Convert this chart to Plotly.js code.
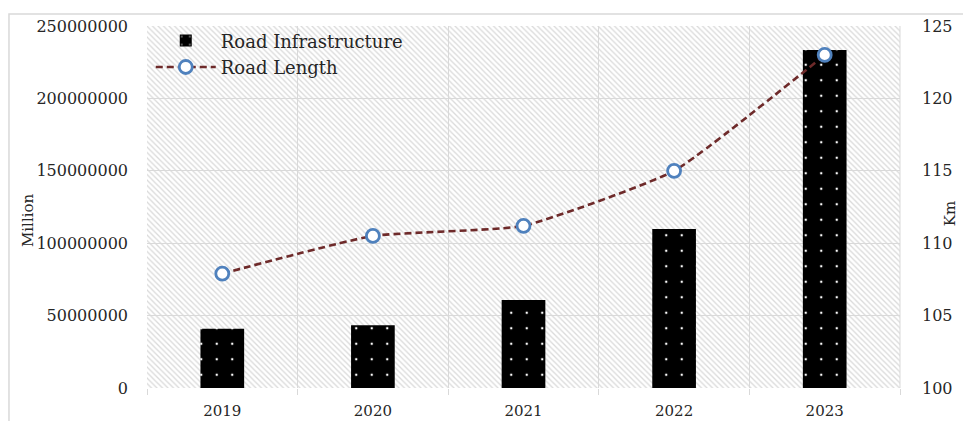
<!DOCTYPE html>
<html>
<head>
<meta charset="utf-8">
<script src="https://cdn.plot.ly/plotly-3.0.1.min.js"></script>
<style>
  html, body { margin: 0; padding: 0; background: #fff; }
  #chart { width: 963px; height: 421px; }
</style>
</head>
<body>
<div id="chart"></div>
<script>
// Yearly categories
const years = ['2019', '2020', '2021', '2022', '2023'];
// Road infrastructure spending (left axis)
const infrastructure = [41000000, 43300000, 60800000, 109800000, 233400000];
// Road length in km (right axis)
const roadLength = [107.9, 110.5, 111.2, 115.0, 123.0];

const leftTicks = [0, 50000000, 100000000, 150000000, 200000000, 250000000];
const rightTicks = [100, 105, 110, 115, 120, 125];

const serif = 'DejaVu Serif, serif';
const textColor = '#262626';
const gridColor = '#d9d9d9';

// Diagonal hatch used as the plot-area fill
const hatchSvg =
  "<svg xmlns='http://www.w3.org/2000/svg' width='753' height='362' viewBox='0 0 753 362' preserveAspectRatio='none'>" +
  "<defs><pattern id='h' width='5.5' height='5.5' patternUnits='userSpaceOnUse'>" +
  "<path d='M-1,-1 L6.5,6.5 M-1,4.5 L1,6.5 M4.5,-1 L6.5,1' stroke='#dadada' stroke-width='1.3'/></pattern></defs>" +
  "<rect width='753' height='362' fill='url(#h)'/></svg>";
const hatchUri = 'data:image/svg+xml;charset=utf-8,' + encodeURIComponent(hatchSvg);

const traces = [
  {
    type: 'bar',
    name: 'Road Infrastructure',
    x: years,
    y: infrastructure,
    width: 0.29,
    marker: {
      color: '#000',
      line: { width: 0 },
      pattern: { shape: '.', fgcolor: '#fff', bgcolor: '#000', size: 15.5, solidity: 0.02, fillmode: 'replace' }
    },
    yaxis: 'y'
  },
  {
    type: 'scatter',
    mode: 'lines+markers',
    name: 'Road Length',
    x: years,
    y: roadLength,
    yaxis: 'y2',
    line: { color: '#6e2a2a', width: 2.6, dash: '7px,4px', shape: 'spline', smoothing: 0.45 },
    marker: { symbol: 'circle', size: 13, color: '#fff', line: { color: '#4f81bd', width: 2.8 } }
  }
];

const layout = {
  width: 963,
  height: 421,
  margin: { l: 147, r: 63, t: 26, b: 33, pad: 0 },
  paper_bgcolor: '#fff',
  plot_bgcolor: '#fff',
  showlegend: true,
  legend: {
    x: 0.005, y: 1.01, xanchor: 'left', yanchor: 'top',
    bgcolor: 'rgba(0,0,0,0)',
    font: { family: serif, size: 18, color: textColor },
    tracegroupgap: 0,
    itemwidth: 60
  },
  xaxis: {
    type: 'category',
    tickson: 'boundaries',
    ticks: 'outside',
    ticklen: 6,
    tickcolor: gridColor,
    showgrid: true,
    gridcolor: gridColor,
    gridwidth: 1,
    showline: false,
    zeroline: false,
    ticklabelstandoff: 12,
    tickfont: { family: serif, size: 15, color: textColor },
    fixedrange: true
  },
  yaxis: {
    range: [0, 250000000],
    tickvals: leftTicks,
    ticktext: leftTicks.map(v => String(v)),
    showgrid: true,
    gridcolor: gridColor,
    gridwidth: 1,
    zeroline: false,
    showline: false,
    ticks: '',
    ticklabelstandoff: 18,
    tickfont: { family: serif, size: 16, color: textColor }
  },
  yaxis2: {
    overlaying: 'y',
    side: 'right',
    range: [100, 125],
    tickvals: rightTicks,
    ticktext: rightTicks.map(v => String(v)),
    showgrid: false,
    zeroline: false,
    showline: false,
    ticks: '',
    ticklabelstandoff: 21,
    tickfont: { family: serif, size: 16, color: textColor }
  },
  images: [{
    source: hatchUri,
    xref: 'paper', yref: 'paper',
    x: 0, y: 1, sizex: 1, sizey: 1,
    xanchor: 'left', yanchor: 'top',
    sizing: 'stretch',
    layer: 'below'
  }],
  shapes: [
    // Outer chart frame
    {
      type: 'rect', xref: 'paper', yref: 'paper',
      x0: -0.1833, x1: 1.2, y0: -0.3, y1: 1.0331,
      line: { color: '#d9d9d9', width: 1.5 },
      fillcolor: 'rgba(0,0,0,0)',
      layer: 'below'
    },
    // Plot area border (right edge)
    {
      type: 'line', xref: 'paper', yref: 'paper',
      x0: 1, x1: 1, y0: 0, y1: 1,
      line: { color: gridColor, width: 1 }
    }
  ],
  annotations: [
    {
      text: 'Million', xref: 'paper', yref: 'paper',
      x: -0.158, y: 0.464, xanchor: 'center', yanchor: 'middle',
      textangle: -90, showarrow: false,
      font: { family: serif, size: 15, color: textColor }
    },
    {
      text: 'Km', xref: 'paper', yref: 'paper',
      x: 1.0664, y: 0.483, xanchor: 'center', yanchor: 'middle',
      textangle: -90, showarrow: false,
      font: { family: serif, size: 15, color: textColor }
    }
  ]
};

Plotly.newPlot('chart', traces, layout, { displayModeBar: false, staticPlot: true });
</script>
</body>
</html>
